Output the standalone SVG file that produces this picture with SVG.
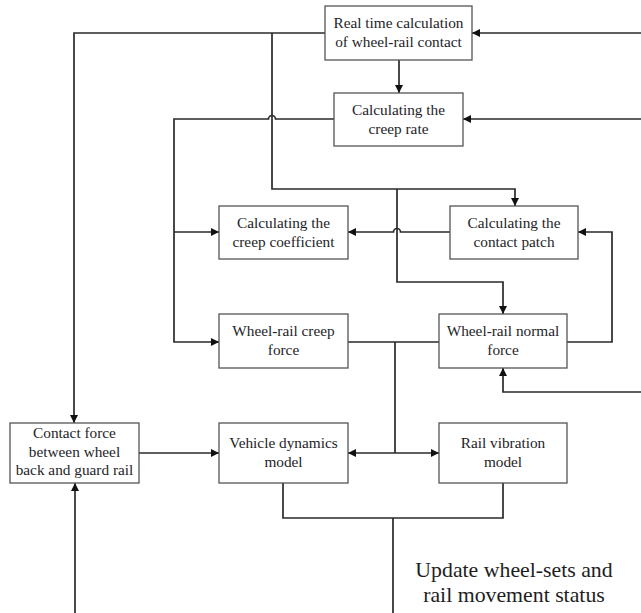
<svg xmlns="http://www.w3.org/2000/svg" width="641" height="613" viewBox="0 0 641 613">
  <style>
    .box { fill: #ffffff; stroke: #555555; stroke-width: 1.3; }
    .lbl { font-family: "Liberation Serif", "Times New Roman", serif; font-size: 15.3px; fill: #1e1e28; text-anchor: middle; }
    .big { font-family: "Liberation Serif", "Times New Roman", serif; font-size: 21.8px; fill: #1e1e1e; text-anchor: middle; }
    .wire { fill: none; stroke: #2a2a2a; stroke-width: 1.7; }
  </style>
  <defs>
    <marker id="arrow" viewBox="0 0 10 10" refX="10" refY="5" markerUnits="userSpaceOnUse" markerWidth="9" markerHeight="8" orient="auto">
      <path d="M0,0 L10,5 L0,10 z" fill="#111111"/>
    </marker>
  </defs>
  <rect width="641" height="613" fill="#ffffff"/>

  <g id="connectors">
    <!-- inputs from the right edge -->
    <path class="wire" d="M641,33 H472" marker-end="url(#arrow)"/>
    <path class="wire" d="M641,119 H463" marker-end="url(#arrow)"/>
    <path class="wire" d="M641,392 H503 V368" marker-end="url(#arrow)"/>
    <!-- contact geometry fan-out -->
    <path class="wire" d="M325,33 H74 V423" marker-end="url(#arrow)"/>
    <path class="wire" d="M272,33 V189 H515 V206" marker-end="url(#arrow)"/>
    <path class="wire" d="M397,189 V282 H503 V314" marker-end="url(#arrow)"/>
    <path class="wire" d="M399,60 V93" marker-end="url(#arrow)"/>
    <!-- creep rate branch, hopping over the vertical at x=272 -->
    <path class="wire" d="M334,119 H275.5 A3.5,3.5 0 0 0 268.5,119 H174 V342 H219" marker-end="url(#arrow)"/>
    <path class="wire" d="M174,232 H219" marker-end="url(#arrow)"/>
    <!-- contact patch to creep coefficient, hopping over x=397 -->
    <path class="wire" d="M450,232 H400.5 A3.5,3.5 0 0 0 393.5,232 H348" marker-end="url(#arrow)"/>
    <!-- normal force feedback to contact patch -->
    <path class="wire" d="M567,342 H612 V232 H578" marker-end="url(#arrow)"/>
    <!-- forces combined into the dynamics models -->
    <path class="wire" d="M348,342 H439 M395,342 V453"/>
    <path class="wire" d="M395,453 H348" marker-end="url(#arrow)"/>
    <path class="wire" d="M395,453 H439" marker-end="url(#arrow)"/>
    <path class="wire" d="M139,453 H219" marker-end="url(#arrow)"/>
    <path class="wire" d="M75,613 V483" marker-end="url(#arrow)"/>
    <!-- state update loop -->
    <path class="wire" d="M283,483 V518 H503 V483 M393,518 V613"/>
  </g>

  <g id="realtime-contact">
    <rect class="box" x="325" y="6" width="147" height="54"/>
    <text class="lbl" x="398.5" y="28">Real time calculation</text>
    <text class="lbl" x="398.5" y="47">of wheel-rail contact</text>
  </g>
  <g id="creep-rate">
    <rect class="box" x="334" y="93" width="129" height="53"/>
    <text class="lbl" x="398.5" y="114.5">Calculating the</text>
    <text class="lbl" x="398.5" y="133.5">creep rate</text>
  </g>
  <g id="creep-coefficient">
    <rect class="box" x="219" y="206" width="129" height="53"/>
    <text class="lbl" x="283.5" y="227.5">Calculating the</text>
    <text class="lbl" x="283.5" y="246.5">creep coefficient</text>
  </g>
  <g id="contact-patch">
    <rect class="box" x="450" y="206" width="128" height="53"/>
    <text class="lbl" x="514" y="227.5">Calculating the</text>
    <text class="lbl" x="514" y="246.5">contact patch</text>
  </g>
  <g id="creep-force">
    <rect class="box" x="219" y="314" width="129" height="54"/>
    <text class="lbl" x="283.5" y="336">Wheel-rail creep</text>
    <text class="lbl" x="283.5" y="355">force</text>
  </g>
  <g id="normal-force">
    <rect class="box" x="439" y="314" width="128" height="54"/>
    <text class="lbl" x="503" y="336">Wheel-rail normal</text>
    <text class="lbl" x="503" y="355">force</text>
  </g>
  <g id="guard-rail-force">
    <rect class="box" x="10" y="423" width="129" height="60"/>
    <text class="lbl" x="74.5" y="438">Contact force</text>
    <text class="lbl" x="74.5" y="456.5">between wheel</text>
    <text class="lbl" x="74.5" y="475">back and guard rail</text>
  </g>
  <g id="vehicle-dynamics">
    <rect class="box" x="219" y="423" width="129" height="60"/>
    <text class="lbl" x="283.5" y="448">Vehicle dynamics</text>
    <text class="lbl" x="283.5" y="467">model</text>
  </g>
  <g id="rail-vibration">
    <rect class="box" x="439" y="423" width="128" height="60"/>
    <text class="lbl" x="503" y="448">Rail vibration</text>
    <text class="lbl" x="503" y="467">model</text>
  </g>
  <g id="update-status">
    <text class="big" x="514" y="577">Update wheel-sets and</text>
    <text class="big" x="514" y="602">rail movement status</text>
  </g>
</svg>
